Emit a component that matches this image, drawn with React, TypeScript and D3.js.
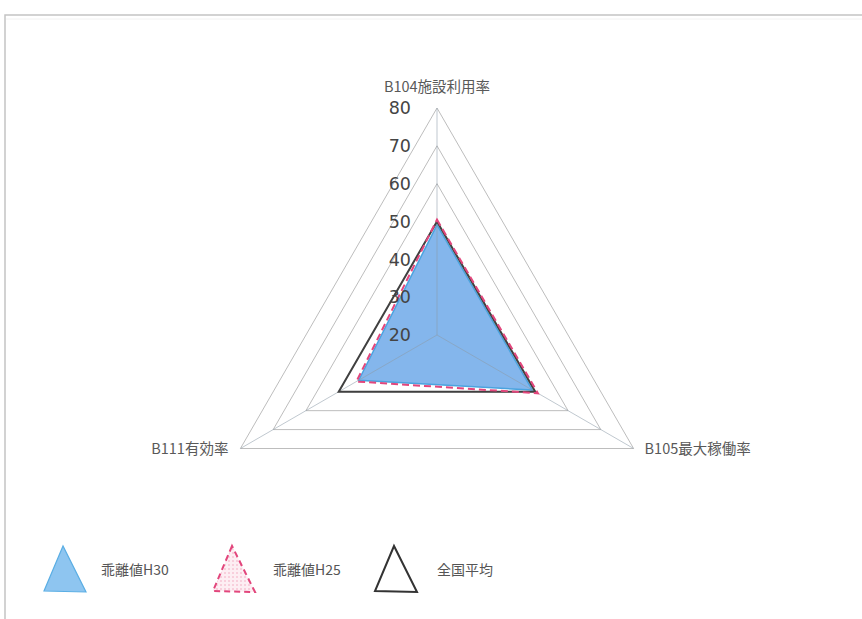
import React from "react";
import * as d3 from "d3";

const axes = ["B104施設利用率", "B105最大稼働率", "B111有効率"];
const ticks = [20, 30, 40, 50, 60, 70, 80];
const seriesNames = ["乖離値H30", "乖離値H25", "全国平均"];
const h30 = [49.1, 49.1, 43.9];
const h25 = [50.5, 50.8, 44.6];
const avg = [50, 50, 50];

const W = 862;
const H = 619;
const cx = 437;
const cy = 335;

const angle = (i: number) => -Math.PI / 2 + (i * 2 * Math.PI) / axes.length;

export default function App() {
  const r = d3.scaleLinear().domain([20, 80]).range([0, 227]);

  const pt = (v: number, i: number): [number, number] => [
    cx + r(v) * Math.cos(angle(i)),
    cy + r(v) * Math.sin(angle(i)),
  ];
  const line = d3.line().curve(d3.curveLinearClosed);
  const poly = (vals: number[]) => line(vals.map((v, i) => pt(v, i))) as string;

  const legendX = [44, 213, 375];
  const legendLabelX = [101, 273, 437];
  const tri = (x: number) => `M${x + 19},546 L${x},591 L${x + 42},592 Z`;

  return (
    <svg
      width={W}
      height={H}
      style={{ position: "absolute", left: 0, top: 0, background: "#fff" }}
    >
      <defs>
        <pattern id="dots" width="4" height="4" patternUnits="userSpaceOnUse">
          <rect width="4" height="4" fill="#fdeef3" />
          <circle cx="1" cy="1" r="0.8" fill="#f2a9c0" />
        </pattern>
      </defs>
      {/* frame */}
      <rect x={5} y={15} width={900} height={700} fill="none" stroke="#c4c4c4" strokeWidth={1.5} />
      <line x1={6} x2={W} y1={19} y2={19} stroke="#f2f2f2" />

      {/* grid */}
      {ticks.slice(1).map((t) => (
        <path key={t} d={poly(axes.map(() => t))} fill="none" stroke="#bdbdbd" strokeWidth={1} />
      ))}

      {/* series */}
      <path d={poly(h30)} fill="#84b6ec" stroke="#4aa3df" strokeWidth={1.5} />
      {axes.map((a, i) => {
        const [x, y] = pt(80, i);
        return <line key={a} x1={cx} y1={cy} x2={x} y2={y} stroke="#8c9aa8" strokeOpacity={0.55} strokeWidth={1} />;
      })}
      <path d={poly(avg)} fill="none" stroke="#404040" strokeWidth={2} strokeLinejoin="miter" />
      <path d={poly(h25)} fill="none" stroke="#e2467c" strokeWidth={2} strokeDasharray="7,4" />

      {/* tick labels */}
      {ticks.map((t) => (
        <text
          key={t}
          x={cx - 26}
          y={cy - r(t)}
          dy="0.36em"
          textAnchor="end"
          fontFamily="'DejaVu Sans', Verdana, sans-serif"
          fontSize={17.5}
          fill="#444"
        >
          {t}
        </text>
      ))}

      {/* axis labels */}
      <g fontFamily="'Noto Sans CJK JP', sans-serif" fontSize={14.5} fill="#595959">
        <text x={pt(80, 0)[0]} y={pt(80, 0)[1] - 16} textAnchor="middle">{axes[0]}</text>
        <text x={pt(80, 1)[0] + 11} y={pt(80, 1)[1]} dy="0.35em" textAnchor="start">{axes[1]}</text>
        <text x={pt(80, 2)[0] - 12} y={pt(80, 2)[1]} dy="0.35em" textAnchor="end">{axes[2]}</text>
      </g>

      {/* legend */}
      <path d={tri(legendX[0])} fill="#8ec5f0" stroke="#5aaee4" strokeWidth={1.2} />
      <path d={tri(legendX[1])} fill="url(#dots)" stroke="#e2467c" strokeWidth={2} strokeDasharray="6,4" />
      <path d={tri(legendX[2])} fill="#fff" stroke="#333" strokeWidth={2} />
      <g fontFamily="'Noto Sans CJK JP', sans-serif" fontSize={14} fill="#555">
        {seriesNames.map((s, i) => (
          <text key={s} x={legendLabelX[i]} y={570} dy="0.35em">{s}</text>
        ))}
      </g>
    </svg>
  );
}
